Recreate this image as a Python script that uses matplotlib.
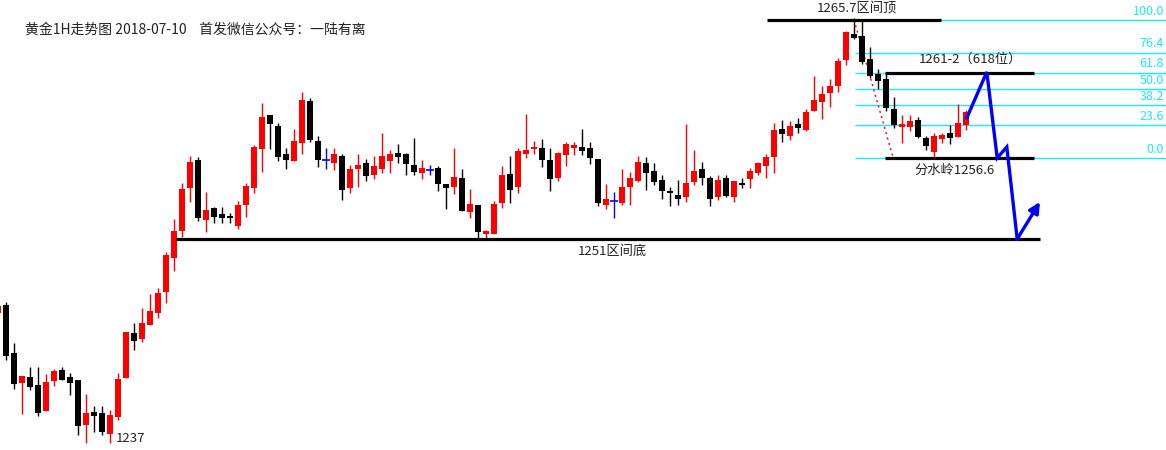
import numpy as np
import matplotlib
matplotlib.use("Agg")
import matplotlib.pyplot as plt

plt.rcParams['font.family'] = ['Noto Sans CJK SC', 'DejaVu Sans']

# hourly gold candles, index -1 .. 120 (first one is cut by the left edge)
opens = [1246.07,
         1246.60, 1243.40, 1241.40, 1241.80, 1241.27, 1239.53, 1241.53, 1242.27, 1241.80, 1241.60,
         1238.60, 1239.47, 1239.40, 1238.00, 1239.13, 1241.73, 1244.73, 1244.33, 1245.27, 1246.07,
         1247.47, 1249.73, 1251.53, 1254.40, 1256.27, 1252.27, 1253.07, 1252.67, 1252.53, 1251.87,
         1253.27, 1254.40, 1257.00, 1259.27, 1258.53, 1256.67, 1256.20, 1257.40, 1260.20, 1257.53,
         1256.27, 1256.07, 1256.53, 1254.40, 1255.67, 1256.07, 1255.27, 1255.67, 1256.20, 1256.73,
         1256.67, 1255.93, 1255.40, 1255.60, 1255.73, 1254.67, 1254.47, 1255.07, 1252.80, 1253.27,
         1251.33, 1251.33, 1253.40, 1255.33, 1254.47, 1256.67, 1257.00, 1257.07, 1256.27, 1255.07,
         1256.60, 1257.07, 1257.13, 1257.07, 1256.33, 1253.27, 1253.53, 1253.40, 1254.47, 1254.87,
         1256.07, 1255.53, 1254.93, 1254.13, 1253.93, 1253.80, 1254.80, 1255.67, 1255.07, 1253.80,
         1255.07, 1253.80, 1254.73, 1255.00, 1255.40, 1255.87, 1256.47, 1258.33, 1257.87, 1258.67,
         1258.27, 1259.53, 1260.13, 1260.73, 1261.20, 1262.93, 1264.67, 1264.53, 1263.00, 1262.00,
         1261.67, 1259.67, 1258.47, 1258.47, 1258.93, 1257.73, 1256.80, 1257.67, 1258.07, 1257.80,
         1258.60]
highs = [1246.67,
         1246.80, 1244.07, 1241.87, 1242.47, 1242.47, 1242.00, 1242.33, 1242.47, 1242.07, 1241.60,
         1240.67, 1239.87, 1239.87, 1239.60, 1242.07, 1244.80, 1245.40, 1246.40, 1247.33, 1247.73,
         1250.13, 1252.33, 1254.73, 1256.53, 1256.47, 1254.13, 1253.13, 1253.13, 1252.73, 1253.53,
         1254.73, 1257.27, 1260.07, 1259.27, 1258.73, 1257.07, 1258.33, 1260.80, 1260.40, 1257.87,
         1257.07, 1257.07, 1256.67, 1255.93, 1256.67, 1256.33, 1256.53, 1258.07, 1256.93, 1257.33,
         1256.73, 1257.73, 1256.27, 1255.93, 1255.87, 1254.67, 1257.07, 1255.67, 1254.33, 1253.27,
         1251.60, 1253.53, 1255.87, 1256.53, 1257.07, 1259.33, 1257.53, 1257.67, 1257.07, 1256.80,
         1257.47, 1257.47, 1258.33, 1257.47, 1256.33, 1254.67, 1254.13, 1255.67, 1255.47, 1256.53,
         1256.47, 1256.07, 1255.27, 1254.47, 1254.93, 1258.67, 1256.93, 1256.13, 1255.20, 1255.27,
         1255.27, 1254.87, 1255.07, 1255.73, 1256.13, 1256.67, 1258.73, 1258.93, 1258.87, 1259.07,
         1259.67, 1261.87, 1261.20, 1261.67, 1263.07, 1264.87, 1265.70, 1265.60, 1263.80, 1262.33,
         1262.00, 1260.47, 1259.27, 1259.27, 1259.13, 1257.87, 1258.07, 1258.07, 1258.60, 1260.00,
         1259.60]
lows = [1245.87,
        1242.93, 1241.00, 1239.33, 1240.93, 1239.20, 1239.53, 1241.20, 1241.60, 1240.60, 1237.93,
        1237.40, 1238.13, 1237.93, 1237.40, 1238.93, 1241.73, 1243.60, 1244.13, 1245.27, 1245.73,
        1246.73, 1248.87, 1251.13, 1253.47, 1252.20, 1251.47, 1252.07, 1252.07, 1252.07, 1251.67,
        1252.47, 1254.07, 1255.47, 1257.00, 1256.20, 1255.67, 1256.20, 1256.67, 1257.47, 1255.80,
        1255.67, 1255.60, 1253.60, 1254.07, 1254.47, 1254.87, 1255.00, 1255.40, 1255.40, 1256.07,
        1255.27, 1255.27, 1255.00, 1255.27, 1254.20, 1253.00, 1254.00, 1252.87, 1252.40, 1251.07,
        1251.07, 1251.33, 1253.07, 1253.40, 1254.07, 1256.40, 1256.67, 1255.80, 1254.20, 1254.87,
        1255.87, 1256.60, 1256.60, 1256.00, 1253.20, 1253.00, 1252.40, 1253.27, 1253.27, 1254.80,
        1254.27, 1254.60, 1253.67, 1253.20, 1253.27, 1253.47, 1254.60, 1254.60, 1253.20, 1253.60,
        1253.80, 1253.47, 1254.40, 1254.40, 1255.27, 1255.07, 1255.40, 1257.47, 1257.60, 1258.07,
        1258.20, 1259.53, 1259.00, 1259.80, 1260.80, 1262.60, 1264.33, 1262.67, 1261.73, 1261.00,
        1259.53, 1258.40, 1257.40, 1258.20, 1257.73, 1256.93, 1256.47, 1257.40, 1257.33, 1257.80,
        1258.27]
closes = [1246.53,
          1243.20, 1241.33, 1241.87, 1241.13, 1239.40, 1241.47, 1242.20, 1241.60, 1241.40, 1238.53,
          1239.40, 1239.20, 1238.13, 1239.27, 1241.67, 1244.80, 1244.20, 1245.40, 1246.20, 1247.40,
          1249.93, 1251.53, 1254.33, 1256.13, 1252.40, 1252.93, 1252.47, 1252.40, 1252.40, 1253.27,
          1254.53, 1257.13, 1259.13, 1258.67, 1256.47, 1256.27, 1257.53, 1260.27, 1257.60, 1256.27,
          1256.27, 1256.67, 1254.27, 1255.67, 1255.93, 1255.20, 1255.87, 1256.53, 1256.67, 1256.47,
          1256.00, 1255.47, 1255.73, 1255.60, 1254.67, 1254.40, 1255.13, 1252.87, 1253.33, 1251.47,
          1251.53, 1253.33, 1255.27, 1254.27, 1256.87, 1256.93, 1257.13, 1256.27, 1255.00, 1256.73,
          1257.33, 1257.27, 1256.87, 1256.40, 1253.40, 1253.67, 1253.53, 1254.47, 1255.07, 1256.13,
          1255.40, 1254.80, 1254.20, 1254.07, 1253.67, 1254.73, 1255.53, 1255.07, 1253.67, 1254.93,
          1253.87, 1254.87, 1254.60, 1255.53, 1256.07, 1256.47, 1258.27, 1258.00, 1258.53, 1258.40,
          1259.47, 1260.27, 1260.67, 1261.20, 1262.87, 1264.80, 1264.40, 1262.80, 1261.87, 1261.53,
          1259.73, 1258.60, 1258.67, 1258.87, 1257.80, 1257.20, 1257.87, 1257.93, 1257.73, 1258.73,
          1259.47]

# key levels drawn on the chart
range_top = 1265.6
range_bottom = 1251.0
watershed = 1256.4
fib_ratios = [100.0, 76.4, 61.8, 50.0, 38.2, 23.6, 0.0]
fib_labels = ["100.0", "76.4", "61.8", "50.0", "38.2", "23.6", "0.0"]

# hand drawn projection (blue zig-zag) in bar index / price
proj_x = [120.1, 122.6, 123.9, 125.1, 126.4, 129.25]
proj_y = [1259.07, 1262.13, 1256.40, 1257.13, 1251.0, 1253.47]

# dotted red trend line from the top to the watershed
trend_x = [106.0, 110.9]
trend_y = [1265.6, 1256.4]

title = "黄金1H走势图 2018-07-10    首发微信公众号：一陆有离"

fig = plt.figure(figsize=(11.66, 4.5), dpi=100)
ax = fig.add_axes([0, 0, 1, 1])
ax.set_axis_off()
ax.set_xlim(-0.75, 145.0)
ax.set_ylim(1236.93, 1266.93)

o = np.array(opens)
h = np.array(highs)
l = np.array(lows)
c = np.array(closes)
x = np.arange(len(o)) - 1

cols = np.where(c > o, '#ff0000', np.where(c < o, '#000000', '#0000ff'))

# wicks
ax.vlines(x, l, h, colors=cols, linewidth=1.0, zorder=2)
# bodies
bottom = np.minimum(o, c)
height = np.maximum(np.abs(c - o), 0.12)
doji = c == o
ax.bar(x[~doji], height[~doji], bottom=bottom[~doji], width=0.72,
       color=cols[~doji], linewidth=0, zorder=3)
ax.hlines(o[doji], x[doji] - 0.45, x[doji] + 0.45, colors='#0000ff',
          linewidth=1.2, zorder=3)

# fibonacci lines
fib_col = '#1ee8f6'
for r, lab in zip(fib_ratios, fib_labels):
    lvl = watershed + r / 100.0 * (range_top - watershed)
    ax.hlines(lvl, 106.1, 145.0, colors=fib_col, linewidth=1.0, zorder=1)
    ax.text(144.75, lvl + 0.15, lab, color=fib_col, fontsize=9,
            ha='right', va='bottom')

# black horizontal levels
fib618 = watershed + 0.618 * (range_top - watershed)
ax.hlines(range_top, 95.1, 116.9, colors='black', linewidth=2.3, zorder=4)
ax.hlines(fib618, 109.9, 128.5, colors='black', linewidth=2.3, zorder=4)
ax.hlines(watershed, 109.9, 128.5, colors='black', linewidth=2.3, zorder=4)
ax.hlines(range_bottom, 21.25, 129.25, colors='black', linewidth=2.3, zorder=4)

# red dotted trend
ax.plot(trend_x, trend_y, color='#ff0000', linestyle=(0, (1.5, 2.5)),
        linewidth=1.0, zorder=2)

# blue projection with arrow head
ax.plot(proj_x[:-1], proj_y[:-1], color='#0000ff', linewidth=2.4,
        solid_joinstyle='miter', zorder=5)
ax.annotate("", xy=(proj_x[-1], proj_y[-1]), xytext=(proj_x[-2], proj_y[-2]),
            arrowprops=dict(arrowstyle='-|>', color='#0000ff', lw=2.4,
                            mutation_scale=16, shrinkA=0, shrinkB=0),
            zorder=5)

# labels
txt_col = '#222222'
ax.text(106.4, 1266.33, "1265.7区间顶", fontsize=9.5, color=txt_col,
        ha='center', va='center')
ax.text(120.5, 1263.0, "1261-2（618位）", fontsize=9.5, color=txt_col,
        ha='center', va='center')
ax.text(118.6, 1255.6, "分水岭1256.6", fontsize=9.5, color=txt_col,
        ha='center', va='center')
ax.text(75.75, 1250.2, "1251区间底", fontsize=9.5, color=txt_col,
        ha='center', va='center')
ax.text(13.75, 1237.73, "1237", fontsize=9.5, color=txt_col,
        ha='left', va='center')

fig.text(25 / 1166, 1 - 30 / 450, title, fontsize=10, color=txt_col,
         ha='left', va='center')

fig.savefig("out.png", dpi=100, facecolor='white')
